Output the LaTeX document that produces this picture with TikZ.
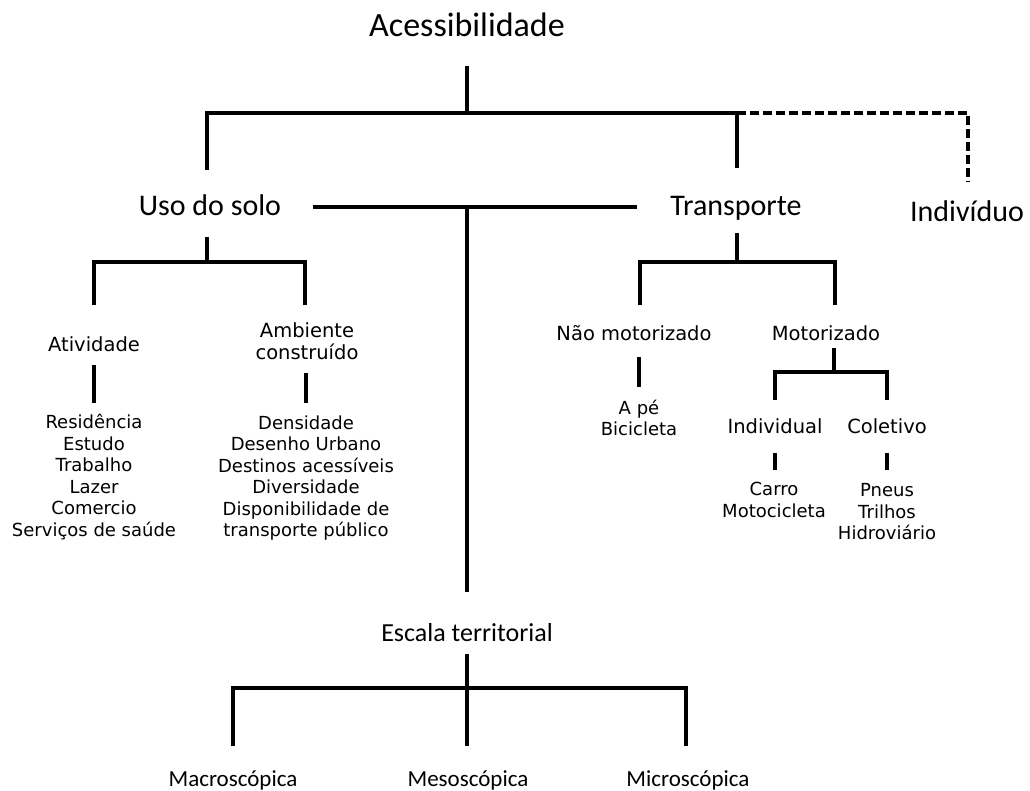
\documentclass[tikz,border=0pt]{standalone}
\usepackage{fontspec}
\setmainfont{DejaVu Sans}
\newfontfamily\bigfont{Carlito}
\begin{document}
\begin{tikzpicture}[x=1pt,y=-1pt,
 ln/.style={line width=3.1pt, line join=miter},
 dl/.style={line width=3.1pt, dash pattern=on 9pt off 4pt},
 small/.style={font=\fontsize{18}{21.5}\selectfont, align=center, inner sep=0pt},
 lbl/.style={font=\fontsize{19.5}{21.5}\selectfont, align=center, inner sep=0pt},
 big/.style={font=\bigfont\fontsize{30}{34}\selectfont, inner sep=0pt, anchor=base},
 huge/.style={font=\bigfont\fontsize{34}{38}\selectfont, inner sep=0pt, anchor=base},
 mid/.style={font=\bigfont\fontsize{26}{30}\selectfont, inner sep=0pt, anchor=base},
 low/.style={font=\bigfont\fontsize{23}{27}\selectfont, inner sep=0pt, anchor=base}]
\useasboundingbox (0,0) rectangle (1030,791);
% text nodes
\node[huge] (acc) at (467,37) {Acessibilidade};
\node[big] (uso) at (210,216) {Uso do solo};
\node[big] (tra) at (736,216) {Transporte};
\node[big] (ind) at (967,222) {Indivíduo};
\node[mid] (esc) at (467,641) {Escala territorial};
\node[low] (mac) at (233,786) {Macroscópica};
\node[low] (mes) at (468,786) {Mesoscópica};
\node[low] (mic) at (688,786) {Microscópica};
\node[lbl] (ati) at (94,344) {Atividade};
\node[lbl] (amb) at (307,341) {Ambiente\\construído};
\node[small] (atil) at (94,477) {Residência\\Estudo\\Trabalho\\Lazer\\Comercio\\Serviços de saúde};
\node[small] (ambl) at (306,478) {Densidade\\Desenho Urbano\\Destinos acessíveis\\Diversidade\\Disponibilidade de\\transporte público};
\node[lbl] (nao) at (634,333) {Não motorizado};
\node[lbl] (mot) at (826,333) {Motorizado};
\node[small] (naol) at (639,418) {A pé\\Bicicleta};
\node[lbl] (indv) at (775,426) {Individual};
\node[lbl] (col) at (887,426) {Coletivo};
\node[small] (indvl) at (774,500) {Carro\\Motocicleta};
\node[small] (coll) at (887,512) {Pneus\\Trilhos\\Hidroviário};
% junction coordinates
\coordinate (a1) at (467,66);
\coordinate (a2) at (467,113);
\coordinate (hl) at (207,113);
\coordinate (ht) at (737,113);
\coordinate (hi) at (968,113);
\coordinate (u1) at (207,170);
\coordinate (t1) at (737,168);
\coordinate (i1) at (968,182);
\coordinate (m1) at (313,207);
\coordinate (m2) at (637,207);
\coordinate (mc) at (467,207);
\coordinate (mb) at (467,592);
\coordinate (e1) at (467,654);
\coordinate (e2) at (467,746);
\coordinate (el) at (233,688);
\coordinate (er) at (686,688);
\coordinate (el2) at (233,746);
\coordinate (er2) at (686,746);
\coordinate (u2) at (207,237);
\coordinate (u3) at (207,262);
\coordinate (ul) at (94,262);
\coordinate (ur) at (305,262);
\coordinate (ul2) at (94,305);
\coordinate (ur2) at (305,305);
\coordinate (ati1) at (94,365);
\coordinate (ati2) at (94,403);
\coordinate (amb1) at (306,373);
\coordinate (amb2) at (306,403);
\coordinate (t2) at (737,233);
\coordinate (t3) at (737,262);
\coordinate (tl) at (640,262);
\coordinate (tr) at (835,262);
\coordinate (tl2) at (640,305);
\coordinate (tr2) at (835,305);
\coordinate (n1) at (639,357);
\coordinate (n2) at (639,387);
\coordinate (mo1) at (834,348);
\coordinate (mo2) at (834,372);
\coordinate (ml) at (775,372);
\coordinate (mr) at (887,372);
\coordinate (ml2) at (775,400);
\coordinate (mr2) at (887,400);
\coordinate (iv1) at (775,453);
\coordinate (iv2) at (775,470);
\coordinate (c1) at (887,453);
\coordinate (c2) at (887,470);
% connectors
\draw[ln] (a1) -- (a2);
\draw[ln] (u1) -- (hl) -- (ht) -- (t1);
\draw[dl] (ht) -- (hi) -- (i1);
\draw[ln] (m1) -- (m2);
\draw[ln] (mc) -- (mb);
\draw[ln] (e1) -- (e2);
\draw[ln] (el2) -- (el) -- (er) -- (er2);
\draw[ln] (u2) -- (u3);
\draw[ln] (ul2) -- (ul) -- (ur) -- (ur2);
\draw[ln] (ati1) -- (ati2);
\draw[ln] (amb1) -- (amb2);
\draw[ln] (t2) -- (t3);
\draw[ln] (tl2) -- (tl) -- (tr) -- (tr2);
\draw[ln] (n1) -- (n2);
\draw[ln] (mo1) -- (mo2);
\draw[ln] (ml2) -- (ml) -- (mr) -- (mr2);
\draw[ln] (iv1) -- (iv2);
\draw[ln] (c1) -- (c2);
\end{tikzpicture}
\end{document}
